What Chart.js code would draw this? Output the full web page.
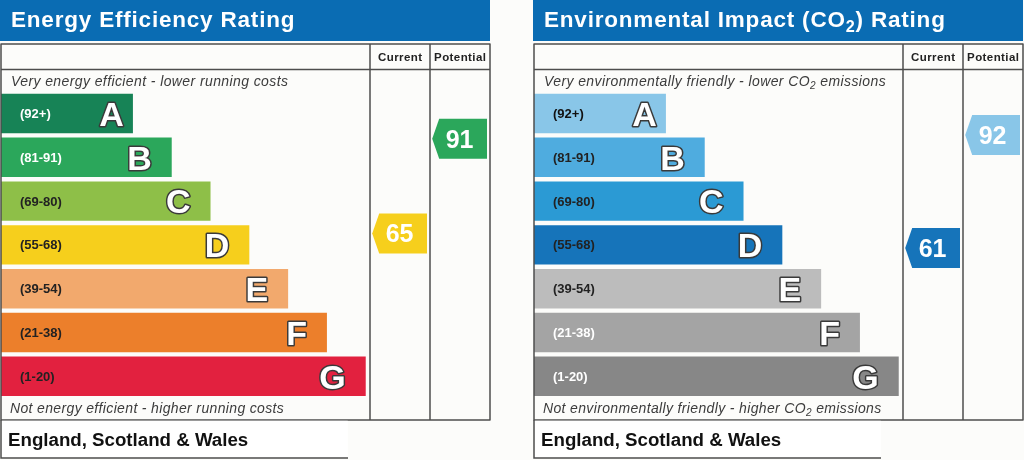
<!DOCTYPE html>
<html><head><meta charset="utf-8">
<script src="https://cdn.jsdelivr.net/npm/chart.js@4"></script>
<style>
html,body{margin:0;padding:0;background:#fcfcfa;width:1024px;height:460px;overflow:hidden}
canvas{position:absolute;top:0}
#c1{left:0}
#c2{left:533px}
</style></head><body>
<canvas id="c1" width="492" height="460"></canvas>
<canvas id="c2" width="492" height="460"></canvas>
<script>
// ---- data ----
const bandLetters = ['A','B','C','D','E','F','G'];
const bandRanges  = ['(92+)','(81-91)','(69-80)','(55-68)','(39-54)','(21-38)','(1-20)'];
const bandMins    = [92, 81, 69, 55, 39, 21, 1];
const bandLengths = [34, 44, 54, 64, 74, 84, 94];   // relative bar lengths
const energyRatings = { current: 65, potential: 91 };
const envRatings    = { current: 61, potential: 92 };
const columnLabels  = ['Current', 'Potential'];

// ---- styles ----
const energyColors = ['#178356','#2ba75b','#8ebf48','#f6cf1c','#f2a96d','#ec7f2b','#e2213f'];
const envColors    = ['#89c6e8','#4facdf','#2b9ad4','#1674ba','#bcbcbc','#a4a4a4','#878787'];
const energyRangeText = ['#ffffff','#ffffff','#222222','#222222','#222222','#222222','#222222'];
const envRangeText    = ['#111111','#222222','#222222','#222222','#222222','#ffffff','#ffffff'];
const FONT = '"Liberation Sans", Arial, Helvetica, sans-serif';
const BLUE = '#0a6cb3';
const LINE = '#4d4d4d';

function bandIndex(v){ for(let i=0;i<bandMins.length;i++){ if(v>=bandMins[i]) return i; } return bandMins.length-1; }

function drawRich(ctx, segs, x, y, size, weight, style, spacing, color){
  let cx = x;
  ctx.fillStyle = color;
  ctx.textAlign = 'left';
  ctx.textBaseline = 'alphabetic';
  for(const s of segs){
    const sz = s.sub ? size*0.72 : size;
    ctx.font = `${style} ${weight} ${sz}px ${FONT}`;
    ctx.letterSpacing = spacing;
    ctx.fillText(s.t, cx, s.sub ? y + size*0.22 : y);
    cx += ctx.measureText(s.t).width;
  }
  ctx.letterSpacing = '0px';
}

function makePanel(canvasId, cfg){
  const plugin = {
    id: 'epcPanel',
    beforeDraw(chart){
      const ctx = chart.ctx;
      const ca = chart.chartArea;
      const colL = ca.right, colW = 60;
      ctx.save();
      ctx.fillStyle = '#fcfcfa';
      ctx.fillRect(0,0,chart.width,chart.height);
      // title bar
      ctx.fillStyle = BLUE;
      ctx.fillRect(0,0,colL+2*colW,41);
      drawRich(ctx, cfg.title, 11, 27, 22.5, 'bold', 'normal', '0.8px', '#ffffff');
      // header labels
      ctx.fillStyle = '#222';
      ctx.font = `bold 11.5px ${FONT}`;
      ctx.letterSpacing = '0.4px';
      ctx.textAlign = 'center';
      ctx.textBaseline = 'alphabetic';
      columnLabels.forEach((t,i)=>ctx.fillText(t, colL + colW*i + colW/2 + 0.2, 61));
      ctx.letterSpacing = '0px';
      // top / bottom descriptions
      drawRich(ctx, cfg.topText, 11, 86, 14, 'normal', 'italic', '0.4px', '#3c3c3c');
      drawRich(ctx, cfg.bottomText, 10, 413, 14, 'normal', 'italic', '0.35px', '#3c3c3c');
      ctx.restore();
    },
    afterDatasetsDraw(chart){
      const ctx = chart.ctx;
      const ca = chart.chartArea;
      const colL = ca.right, colW = 60;
      const left = ca.left, right = colL + 2*colW;
      const meta = chart.getDatasetMeta(0);
      ctx.save();
      // labels on bars
      meta.data.forEach((el,i)=>{
        const yc = el.y;
        ctx.font = `bold 13px ${FONT}`;
        ctx.fillStyle = cfg.rangeText[i];
        ctx.textAlign = 'left';
        ctx.textBaseline = 'alphabetic';
        ctx.fillText(bandRanges[i], el.base + 19, yc + 4.5);
        ctx.font = `bold 34px ${FONT}`;
        ctx.textAlign = 'right';
        const gap = i === 0 ? 9 : 20;
        ctx.lineJoin = 'round';
        ctx.lineWidth = 3;
        ctx.strokeStyle = '#3a3a3a';
        ctx.strokeText(bandLetters[i], el.x - gap, yc + 12.2);
        ctx.fillStyle = '#ffffff';
        ctx.fillText(bandLetters[i], el.x - gap, yc + 12.2);
      });
      // table frame
      ctx.strokeStyle = LINE;
      ctx.lineWidth = 1.5;
      ctx.strokeRect(left, 44, right-left, 420-44);
      ctx.beginPath();
      ctx.moveTo(left, 69.5); ctx.lineTo(right, 69.5);
      ctx.moveTo(colL, 44); ctx.lineTo(colL, 420);
      ctx.moveTo(colL+colW, 44); ctx.lineTo(colL+colW, 420);
      ctx.stroke();
      // arrows
      const rs = chart.scales.rating;
      [cfg.ratings.current, cfg.ratings.potential].forEach((v,k)=>{
        const yc = rs.getPixelForValue(v);
        const x0 = colL + colW*k + 2.2, x1 = colL + colW*k + 57, h = 20;
        ctx.fillStyle = cfg.colors[bandIndex(v)];
        ctx.beginPath();
        ctx.moveTo(x0, yc);
        ctx.lineTo(x0+7, yc-h);
        ctx.lineTo(x1, yc-h);
        ctx.lineTo(x1, yc+h);
        ctx.lineTo(x0+7, yc+h);
        ctx.closePath();
        ctx.fill();
        ctx.fillStyle = '#ffffff';
        ctx.font = `bold 25px ${FONT}`;
        ctx.textAlign = 'center';
        ctx.textBaseline = 'alphabetic';
        ctx.fillText(String(v), (x0+x1)/2, yc + 9);
      });
      // footer
      ctx.fillStyle = '#ffffff';
      ctx.fillRect(left+0.75, 420.75, 346, 36.5);
      ctx.beginPath();
      ctx.moveTo(left, 420); ctx.lineTo(left, 458);
      ctx.moveTo(left-0.75, 458); ctx.lineTo(348, 458);
      ctx.stroke();
      ctx.fillStyle = '#111111';
      ctx.font = `bold 18.7px ${FONT}`;
      ctx.textAlign = 'left';
      ctx.fillText('England, Scotland & Wales', 8, 446);
      ctx.restore();
    }
  };

  return new Chart(document.getElementById(canvasId), {
    type: 'bar',
    data: {
      labels: bandLetters,
      datasets: [{
        data: bandLengths,
        backgroundColor: cfg.colors,
        borderWidth: 0,
        barPercentage: 0.9,
        categoryPercentage: 1
      }]
    },
    options: {
      indexAxis: 'y',
      responsive: false,
      animation: false,
      layout: { padding: { left: 1, right: 122, top: 91.6, bottom: 61.8 } },
      scales: {
        x: { display: false, min: 0, max: 95.1 },
        y: { display: false },
        rating: { type: 'linear', axis: 'y', position: 'right', display: false, offset: false, grace: 0, min: 19.8, max: 103.9 }
      },
      plugins: { legend: { display: false }, tooltip: { enabled: false } },
      events: []
    },
    plugins: [plugin]
  });
}

makePanel('c1', {
  title: [{t:'Energy Efficiency Rating'}],
  topText: [{t:'Very energy efficient - lower running costs'}],
  bottomText: [{t:'Not energy efficient - higher running costs'}],
  colors: energyColors,
  rangeText: energyRangeText,
  ratings: energyRatings
});
makePanel('c2', {
  title: [{t:'Environmental Impact (CO'},{t:'2',sub:true},{t:') Rating'}],
  topText: [{t:'Very environmentally friendly - lower CO'},{t:'2',sub:true},{t:' emissions'}],
  bottomText: [{t:'Not environmentally friendly - higher CO'},{t:'2',sub:true},{t:' emissions'}],
  colors: envColors,
  rangeText: envRangeText,
  ratings: envRatings
});
</script>
</body></html>
